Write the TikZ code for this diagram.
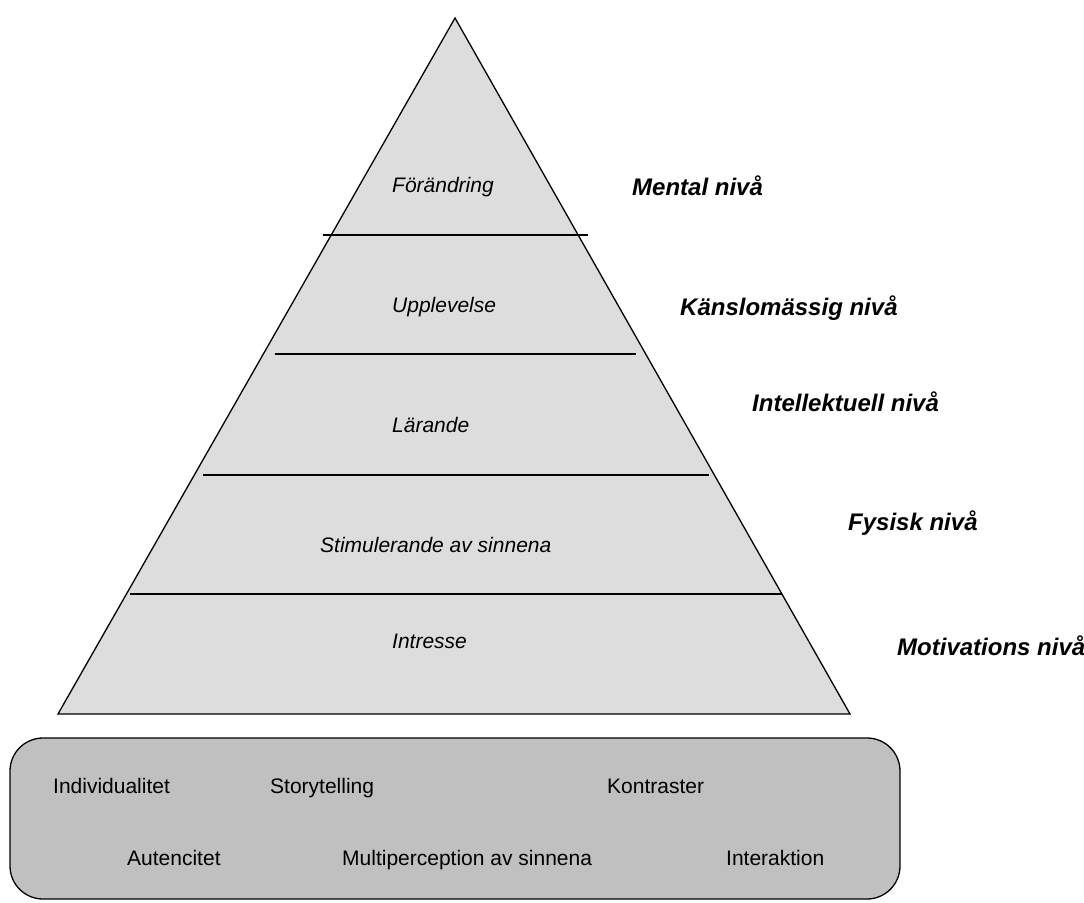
\documentclass[tikz,border=0pt]{standalone}
\usepackage{fontspec}
\setmainfont{Liberation Sans}
\definecolor{tierfill}{RGB}{221,221,221}
\definecolor{boxfill}{RGB}{192,192,192}
\begin{document}
\begin{tikzpicture}[x=1pt, y=-1pt,
  tier/.style={anchor=base west, inner sep=0pt, font=\fontsize{21}{25}\selectfont\itshape},
  level/.style={anchor=base west, inner sep=0pt, font=\fontsize{24}{28}\selectfont\bfseries\itshape},
  item/.style={anchor=base west, inner sep=0pt, font=\fontsize{21}{25}\selectfont}]

\useasboundingbox (0,0) rectangle (1084,902);

\draw[line width=1.3pt, fill=tierfill]
(455,18) -- (850,714) -- (58,714) -- cycle
;

\draw[line width=1.3pt]
(323,235) -- (588,235)
(275,354) -- (636,354)
(203,475) -- (709,475)
(130,594) -- (782,594)
;

\draw[line width=1.3pt, fill=boxfill, rounded corners=33pt]
(10,738) rectangle (900,899)
;

\begin{scope}[every node/.style={tier}]
\node(fo) at(392,192) {Förändring};
\node(up) at(392,312) {Upplevelse};
\node(la) at(392,432) {Lärande};
\node(st) at(320,552) {Stimulerande av sinnena};
\node(in) at(392,648) {Intresse};
\end{scope}

\begin{scope}[every node/.style={level}]
\node(me) at(632,195) {Mental nivå};
\node(ka) at(680,315) {Känslomässig nivå};
\node(il) at(752,411) {Intellektuell nivå};
\node(fy) at(848,530) {Fysisk nivå};
\node(mo) at(897,655) {Motivations nivå};
\end{scope}

\begin{scope}[every node/.style={item}]
\node(ind) at(53,793) {Individualitet};
\node(sto) at(270,793) {Storytelling};
\node(kon) at(607,793) {Kontraster};
\node(aut) at(127,865) {Autencitet};
\node(mul) at(342,865) {Multiperception av sinnena};
\node(int) at(726,865) {Interaktion};
\end{scope}

\end{tikzpicture}
\end{document}
